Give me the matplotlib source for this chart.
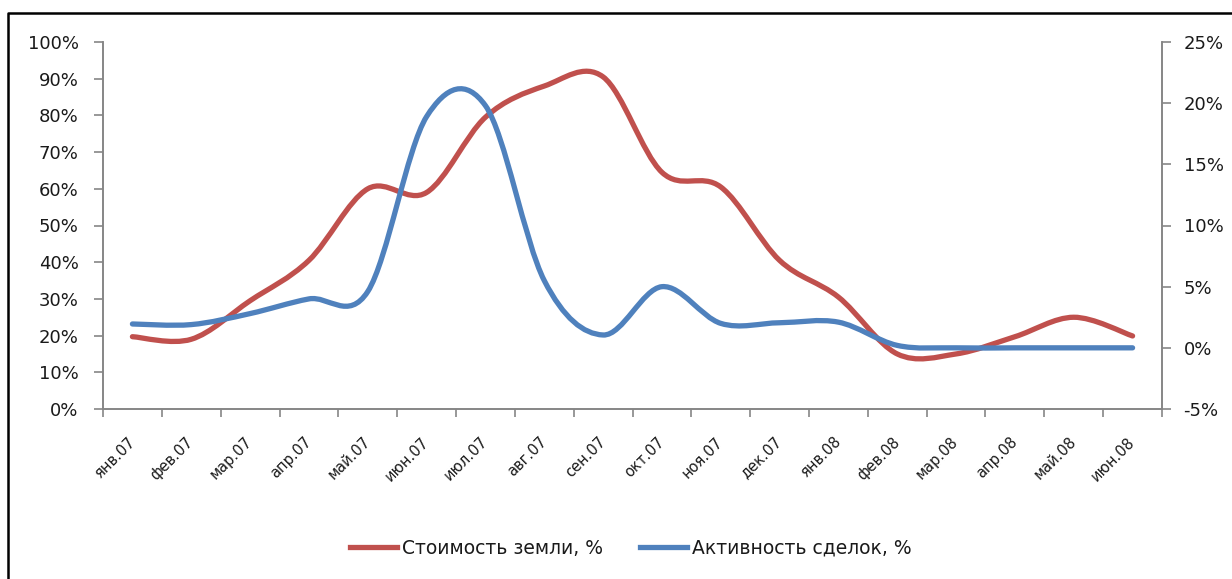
import matplotlib
matplotlib.use("Agg")
import matplotlib.pyplot as plt
from matplotlib.path import Path
from matplotlib.patches import PathPatch
from matplotlib.lines import Line2D
import numpy as np

months = ["янв.07", "фев.07", "мар.07", "апр.07", "май.07", "июн.07", "июл.07",
          "авг.07", "сен.07", "окт.07", "ноя.07", "дек.07", "янв.08", "фев.08",
          "мар.08", "апр.08", "май.08", "июн.08"]
land_cost = [19.7, 19.0, 29.5, 40.5, 60.0, 59.0, 79.5, 88.0, 90.5, 64.5, 60.5,
             40.5, 30.5, 15.0, 15.0, 19.7, 25.0, 19.9]          # left axis, %
deal_activity = [1.95, 1.9, 2.8, 4.0, 4.6, 18.9, 19.8, 5.5, 1.05, 5.0, 2.0,
                 2.05, 2.1, 0.2, 0.0, 0.0, 0.0, 0.0]            # right axis, %
left_ticks = list(range(0, 101, 10))
right_ticks = list(range(-5, 26, 5))

RED = "#C0504D"
BLUE = "#4F81BD"
SPINE = "#868686"
TXT = "#1a1a1a"


def smooth_path(xs, ys):
    pts = np.column_stack([xs, ys]).astype(float)
    n = len(pts)
    verts = [pts[0]]
    codes = [Path.MOVETO]
    for i in range(n - 1):
        p0 = pts[i - 1] if i > 0 else pts[i]
        p1 = pts[i]
        p2 = pts[i + 1]
        p3 = pts[i + 2] if i + 2 < n else pts[i + 1]
        c1 = p1 + (p2 - p0) / 6.0
        c2 = p2 - (p3 - p1) / 6.0
        verts += [c1, c2, p2]
        codes += [Path.CURVE4] * 3
    return Path(verts, codes)


plt.rcParams["font.family"] = ["DejaVu Sans"]
fig = plt.figure(figsize=(12.32, 5.79), dpi=100)
fig.patch.set_facecolor("white")

ax = fig.add_axes([103 / 1232, 1 - 409 / 579, (1162 - 103) / 1232, (409 - 42) / 579])
ax2 = ax.twinx()

x = np.arange(len(months))
ax.add_patch(PathPatch(smooth_path(x, land_cost), fill=False, edgecolor=RED,
                       lw=3.8, capstyle="round", joinstyle="round"))
ax2.add_patch(PathPatch(smooth_path(x, deal_activity), fill=False, edgecolor=BLUE,
                        lw=3.8, capstyle="round", joinstyle="round"))

ax.set_xlim(-0.5, len(months) - 0.5)
ax.set_ylim(0, 100)
ax2.set_ylim(-5, 25)

ax.set_yticks(left_ticks)
ax.set_yticklabels([f"{v}%" for v in left_ticks])
ax2.set_yticks(right_ticks)
ax2.set_yticklabels([f"{v}%" for v in right_ticks])

ax.set_xticks(x)
ax.set_xticklabels(months, rotation=45, ha="right", va="center",
                   rotation_mode="anchor", fontsize=10.5, color=TXT)
ax.set_xticks(np.arange(-0.5, len(months), 1.0), minor=True)
ax.tick_params(axis="x", which="major", length=0, pad=22)
ax.tick_params(axis="x", which="minor", length=6, width=1.2, color=SPINE, direction="out")
ax.tick_params(axis="y", length=6.5, width=1.2, color=SPINE, direction="out",
               labelsize=13, labelcolor=TXT, pad=11)
ax2.tick_params(axis="y", length=6.5, width=1.2, color=SPINE, direction="out",
                labelsize=13, labelcolor=TXT, pad=9)

for a in (ax, ax2):
    a.spines["top"].set_visible(False)
    for s in ("left", "right", "bottom"):
        a.spines[s].set_color(SPINE)
        a.spines[s].set_linewidth(1.2)
    a.set_facecolor("none")

handles = [Line2D([], [], color=RED, lw=3.8), Line2D([], [], color=BLUE, lw=3.8)]
fig.legend(handles, ["Стоимость земли, %", "Активность сделок, %"],
           loc="center", bbox_to_anchor=(631 / 1232, 1 - 548 / 579), ncol=2,
           frameon=False, fontsize=13.5, handlelength=2.5, handletextpad=0.25,
           columnspacing=2.0, labelcolor=TXT)

# chart-area border (cropped at right and bottom in the reference)
fig.add_artist(Line2D([8 / 1232, 8 / 1232, 1.0], [0.0, 1 - 13 / 579, 1 - 13 / 579],
                      transform=fig.transFigure, color="black", lw=1.8))

fig.savefig("out.png", dpi=100, facecolor="white")
